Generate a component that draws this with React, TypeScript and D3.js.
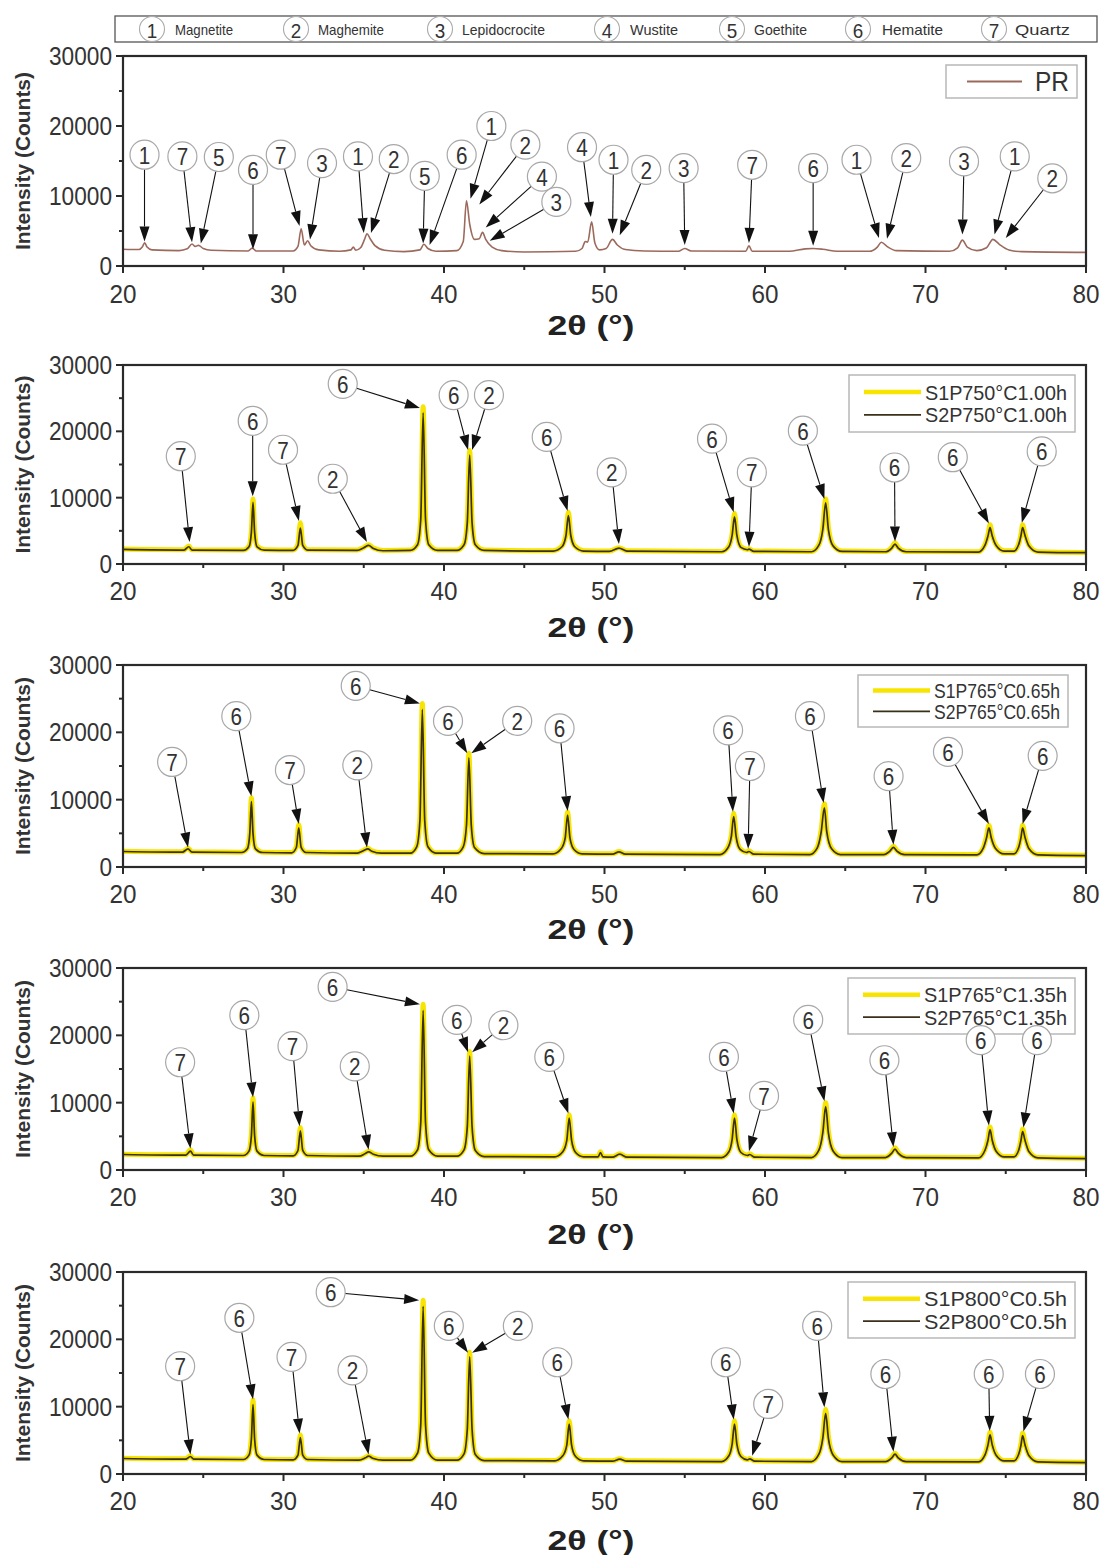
import React from 'react';
import * as d3 from 'd3';

// ---------------- DATA ----------------
const X_TICKS = [20, 30, 40, 50, 60, 70, 80];
const X_MINOR = [25, 35, 45, 55, 65, 75];
const Y_TICKS = [0, 10000, 20000, 30000];
const Y_MINOR = [5000, 15000, 25000];

const PHASE_NUMBERS = ['1', '2', '3', '4', '5', '6', '7'];
const PHASE_NAMES = ['Magnetite', 'Maghemite', 'Lepidocrocite', 'Wustite', 'Goethite', 'Hematite', 'Quartz'];

// [2θ, counts]
const PR: [number, number][] = [
  [20, 2400], [21.0, 2350], [21.2, 2700], [21.35, 3300], [21.5, 2700], [21.8, 2300],
  [23.5, 2200], [24.0, 2450], [24.3, 3150], [24.5, 2800], [24.7, 2950], [25.0, 2500], [25.5, 2250],
  [27.8, 2150], [28.05, 2550], [28.3, 2150],
  [30.6, 2150], [30.9, 2800], [31.1, 5300], [31.3, 3000], [31.5, 3600], [31.7, 2900], [32.2, 2300],
  [33.5, 2100], [34.2, 2300], [34.35, 2700], [34.5, 2250], [34.8, 2600], [35.05, 3800], [35.2, 4600], [35.4, 3900], [35.7, 2900], [36.3, 2250],
  [37.5, 2050], [38.5, 2300], [38.75, 3100], [39.0, 2500], [39.5, 2100],
  [40.8, 2200], [41.2, 3500], [41.4, 9300], [41.6, 6000], [41.9, 3800], [42.2, 3900], [42.4, 4800], [42.6, 3800], [43.0, 2700], [43.6, 2200], [45, 2000],
  [48.2, 2100], [48.6, 2500], [48.8, 3500], [48.95, 3400], [49.2, 6300], [49.4, 3300], [49.7, 2300], [50.1, 2500], [50.5, 3800], [50.8, 3000], [51.3, 2350], [52.5, 2150],
  [54.6, 2100], [55.0, 2500], [55.4, 2150],
  [58.8, 2100], [59.0, 2900], [59.2, 2100],
  [61.5, 2100], [62.5, 2450], [63.0, 2500], [63.6, 2400], [64.5, 2100],
  [66.5, 2100], [67.0, 2700], [67.25, 3400], [67.6, 2800], [68.2, 2200],
  [71.5, 2100], [72.0, 2600], [72.3, 3700], [72.6, 2700], [73.2, 2200], [73.8, 2600], [74.2, 3800], [74.6, 3100], [75.2, 2300], [76, 2050],
  [80, 1950],
];

const S1_750: [number, number][] = [
  [20, 2250], [23.8, 2150], [24.1, 2700], [24.3, 2150],
  [27.5, 2100], [27.85, 2700], [28.0, 5000], [28.1, 9800], [28.2, 5000], [28.35, 2700], [28.8, 2150],
  [30.6, 2100], [30.9, 3000], [31.05, 6200], [31.2, 3000], [31.5, 2150],
  [34.6, 2100], [35.0, 2500], [35.3, 2900], [35.6, 2400], [36.2, 2050],
  [37.9, 2100], [38.35, 3000], [38.55, 7000], [38.7, 23700], [38.85, 7000], [39.05, 3000], [39.6, 2100],
  [40.8, 2100], [41.25, 3000], [41.45, 6500], [41.6, 17100], [41.75, 6500], [41.95, 3000], [42.5, 2100],
  [46.8, 2000], [47.35, 2700], [47.6, 4500], [47.75, 7800], [47.9, 4500], [48.15, 2700], [48.7, 2000],
  [50.3, 1950], [50.9, 2450], [51.4, 2000],
  [57.3, 1900], [57.75, 2700], [57.95, 4500], [58.1, 7600], [58.25, 4500], [58.5, 2600], [58.9, 2200], [59.0, 2300], [59.3, 1950],
  [62.9, 1900], [63.35, 2900], [63.6, 5500], [63.78, 9800], [63.95, 5500], [64.25, 2800], [64.8, 1950],
  [67.5, 1900], [67.9, 2500], [68.1, 3200], [68.3, 2500], [68.8, 1900],
  [73.3, 1850], [73.7, 2900], [73.9, 4500], [74.02, 5900], [74.15, 4500], [74.4, 2900], [74.9, 2000],
  [75.5, 2000], [75.8, 3000], [75.95, 4500], [76.05, 5900], [76.2, 4500], [76.45, 2800], [77.0, 1850],
  [80, 1750],
];
const S2_750: [number, number][] = [
  [20, 2200], [23.8, 2100], [24.1, 2600], [24.3, 2100],
  [27.5, 2050], [27.85, 2600], [28.0, 4800], [28.1, 9300], [28.2, 4800], [28.35, 2600], [28.8, 2100],
  [30.6, 2050], [30.9, 2800], [31.05, 5400], [31.2, 2800], [31.5, 2100],
  [34.6, 2050], [35.0, 2450], [35.3, 2800], [35.6, 2350], [36.2, 2000],
  [37.9, 2050], [38.35, 2900], [38.55, 6700], [38.7, 22800], [38.85, 6700], [39.05, 2900], [39.6, 2050],
  [40.8, 2050], [41.25, 2900], [41.45, 6200], [41.6, 16400], [41.75, 6200], [41.95, 2900], [42.5, 2050],
  [46.8, 1950], [47.35, 2600], [47.6, 4300], [47.75, 7300], [47.9, 4300], [48.15, 2600], [48.7, 1950],
  [50.3, 1900], [50.9, 2400], [51.4, 1950],
  [57.3, 1850], [57.75, 2600], [57.95, 4300], [58.1, 7100], [58.25, 4300], [58.5, 2500], [58.9, 2150], [59.0, 2250], [59.3, 1900],
  [62.9, 1850], [63.35, 2800], [63.6, 5200], [63.78, 9200], [63.95, 5200], [64.25, 2700], [64.8, 1900],
  [67.5, 1850], [67.9, 2400], [68.1, 3000], [68.3, 2400], [68.8, 1850],
  [73.3, 1800], [73.7, 2800], [73.9, 4300], [74.02, 5500], [74.15, 4300], [74.4, 2800], [74.9, 1950],
  [75.5, 1950], [75.8, 2900], [75.95, 4300], [76.05, 5500], [76.2, 4300], [76.45, 2700], [77.0, 1800],
  [80, 1700],
];

const S1_765A: [number, number][] = [
  [20, 2350], [23.7, 2250], [24.05, 2800], [24.3, 2250],
  [27.4, 2200], [27.75, 2800], [27.9, 5200], [28.0, 10300], [28.1, 5200], [28.25, 2800], [28.7, 2200],
  [30.5, 2150], [30.8, 3000], [30.95, 6300], [31.1, 3000], [31.4, 2200],
  [34.6, 2100], [35.0, 2500], [35.25, 2800], [35.5, 2400], [36.1, 2100],
  [37.9, 2100], [38.3, 3100], [38.5, 7200], [38.65, 24300], [38.8, 7200], [39.0, 3100], [39.5, 2100],
  [40.8, 2100], [41.2, 3100], [41.4, 6500], [41.55, 16900], [41.7, 6500], [41.9, 3000], [42.5, 2050],
  [46.8, 2000], [47.3, 2800], [47.55, 4500], [47.7, 8200], [47.85, 4500], [48.1, 2700], [48.6, 2000],
  [50.5, 1950], [50.9, 2300], [51.3, 1950],
  [57.2, 1900], [57.65, 2800], [57.9, 4700], [58.05, 8000], [58.2, 4700], [58.45, 2700], [58.85, 2200], [59.0, 2400], [59.3, 1950],
  [62.8, 1900], [63.25, 2900], [63.5, 5500], [63.7, 9400], [63.85, 5500], [64.15, 2800], [64.7, 1900],
  [67.4, 1900], [67.8, 2500], [68.0, 3100], [68.2, 2500], [68.7, 1900],
  [73.2, 1850], [73.6, 2900], [73.8, 4500], [73.95, 6200], [74.1, 4500], [74.35, 2900], [74.9, 2000],
  [75.5, 2000], [75.8, 3000], [75.95, 4600], [76.05, 6200], [76.2, 4600], [76.45, 2800], [77.0, 1850],
  [80, 1750],
];
const S2_765A: [number, number][] = [
  [20, 2300], [23.7, 2200], [24.05, 2700], [24.3, 2200],
  [27.4, 2150], [27.75, 2700], [27.9, 5000], [28.0, 9700], [28.1, 5000], [28.25, 2700], [28.7, 2150],
  [30.5, 2100], [30.8, 2900], [30.95, 5800], [31.1, 2900], [31.4, 2150],
  [34.6, 2050], [35.0, 2450], [35.25, 2700], [35.5, 2350], [36.1, 2050],
  [37.9, 2050], [38.3, 3000], [38.5, 6900], [38.65, 23400], [38.8, 6900], [39.0, 3000], [39.5, 2050],
  [40.8, 2050], [41.2, 3000], [41.4, 6200], [41.55, 16200], [41.7, 6200], [41.9, 2900], [42.5, 2000],
  [46.8, 1950], [47.3, 2700], [47.55, 4300], [47.7, 7700], [47.85, 4300], [48.1, 2600], [48.6, 1950],
  [50.5, 1900], [50.9, 2250], [51.3, 1900],
  [57.2, 1850], [57.65, 2700], [57.9, 4500], [58.05, 7500], [58.2, 4500], [58.45, 2600], [58.85, 2150], [59.0, 2300], [59.3, 1900],
  [62.8, 1850], [63.25, 2800], [63.5, 5200], [63.7, 8800], [63.85, 5200], [64.15, 2700], [64.7, 1850],
  [67.4, 1850], [67.8, 2400], [68.0, 2900], [68.2, 2400], [68.7, 1850],
  [73.2, 1800], [73.6, 2800], [73.8, 4300], [73.95, 5800], [74.1, 4300], [74.35, 2800], [74.9, 1950],
  [75.5, 1950], [75.8, 2900], [75.95, 4400], [76.05, 5800], [76.2, 4400], [76.45, 2700], [77.0, 1800],
  [80, 1700],
];

const S1_765B: [number, number][] = [
  [20, 2350], [23.9, 2250], [24.2, 3000], [24.4, 2250],
  [27.5, 2200], [27.85, 2900], [28.0, 5400], [28.1, 10700], [28.2, 5400], [28.35, 2900], [28.8, 2200],
  [30.6, 2150], [30.9, 3000], [31.05, 6300], [31.2, 3000], [31.5, 2200],
  [34.7, 2100], [35.1, 2500], [35.3, 2800], [35.6, 2400], [36.2, 2100],
  [37.9, 2100], [38.35, 3100], [38.55, 7300], [38.7, 24600], [38.85, 7300], [39.05, 3100], [39.6, 2100],
  [40.8, 2100], [41.25, 3100], [41.45, 6700], [41.6, 17600], [41.75, 6700], [41.95, 3000], [42.5, 2050],
  [46.9, 2000], [47.4, 2800], [47.65, 4600], [47.8, 8200], [47.95, 4600], [48.2, 2700], [48.7, 2000],
  [49.6, 2000], [49.75, 2700], [49.9, 2000],
  [50.5, 1950], [50.95, 2400], [51.4, 1950],
  [57.3, 1900], [57.75, 2800], [57.95, 4700], [58.1, 8200], [58.25, 4700], [58.5, 2700], [58.9, 2200], [59.05, 2400], [59.35, 1950],
  [62.9, 1900], [63.35, 3000], [63.6, 5800], [63.78, 10000], [63.95, 5800], [64.25, 2900], [64.8, 1900],
  [67.5, 1900], [67.9, 2600], [68.1, 3300], [68.3, 2600], [68.8, 1900],
  [73.3, 1850], [73.7, 3000], [73.9, 4700], [74.02, 6400], [74.15, 4700], [74.4, 2900], [74.9, 2000],
  [75.5, 2000], [75.8, 3000], [75.95, 4600], [76.05, 6100], [76.2, 4600], [76.45, 2800], [77.0, 1850],
  [80, 1750],
];
const S2_765B: [number, number][] = [
  [20, 2300], [23.9, 2200], [24.2, 2800], [24.4, 2200],
  [27.5, 2150], [27.85, 2800], [28.0, 5100], [28.1, 10100], [28.2, 5100], [28.35, 2800], [28.8, 2150],
  [30.6, 2100], [30.9, 2900], [31.05, 5800], [31.2, 2900], [31.5, 2150],
  [34.7, 2050], [35.1, 2450], [35.3, 2700], [35.6, 2350], [36.2, 2050],
  [37.9, 2050], [38.35, 3000], [38.55, 7000], [38.7, 23700], [38.85, 7000], [39.05, 3000], [39.6, 2050],
  [40.8, 2050], [41.25, 3000], [41.45, 6400], [41.6, 16900], [41.75, 6400], [41.95, 2900], [42.5, 2000],
  [46.9, 1950], [47.4, 2700], [47.65, 4400], [47.8, 7700], [47.95, 4400], [48.2, 2600], [48.7, 1950],
  [49.6, 1950], [49.75, 2600], [49.9, 1950],
  [50.5, 1900], [50.95, 2350], [51.4, 1900],
  [57.3, 1850], [57.75, 2700], [57.95, 4500], [58.1, 7700], [58.25, 4500], [58.5, 2600], [58.9, 2150], [59.05, 2300], [59.35, 1900],
  [62.9, 1850], [63.35, 2900], [63.6, 5500], [63.78, 9400], [63.95, 5500], [64.25, 2800], [64.8, 1850],
  [67.5, 1850], [67.9, 2500], [68.1, 3100], [68.3, 2500], [68.8, 1850],
  [73.3, 1800], [73.7, 2900], [73.9, 4500], [74.02, 6000], [74.15, 4500], [74.4, 2800], [74.9, 1950],
  [75.5, 1950], [75.8, 2900], [75.95, 4400], [76.05, 5700], [76.2, 4400], [76.45, 2700], [77.0, 1800],
  [80, 1700],
];

const S1_800: [number, number][] = [
  [20, 2350], [23.9, 2250], [24.2, 2700], [24.4, 2250],
  [27.5, 2200], [27.85, 2900], [28.0, 5500], [28.1, 11000], [28.2, 5500], [28.35, 2900], [28.8, 2200],
  [30.6, 2150], [30.9, 2900], [31.05, 5800], [31.2, 2900], [31.5, 2200],
  [34.7, 2100], [35.1, 2450], [35.3, 2700], [35.6, 2350], [36.2, 2100],
  [37.9, 2100], [38.35, 3200], [38.55, 7600], [38.7, 25800], [38.85, 7600], [39.05, 3200], [39.6, 2100],
  [40.8, 2100], [41.25, 3100], [41.45, 6900], [41.6, 18100], [41.75, 6900], [41.95, 3000], [42.5, 2050],
  [46.9, 2000], [47.4, 2800], [47.65, 4500], [47.8, 7900], [47.95, 4500], [48.2, 2700], [48.7, 2000],
  [50.5, 1950], [50.95, 2250], [51.4, 1950],
  [57.3, 1900], [57.75, 2800], [57.95, 4600], [58.1, 7900], [58.25, 4600], [58.5, 2700], [58.9, 2150], [59.05, 2300], [59.35, 1950],
  [62.9, 1900], [63.35, 3000], [63.6, 5600], [63.78, 9600], [63.95, 5600], [64.25, 2900], [64.8, 1900],
  [67.5, 1900], [67.9, 2500], [68.1, 3100], [68.3, 2500], [68.8, 1900],
  [73.3, 1850], [73.7, 2900], [73.9, 4600], [74.02, 6200], [74.15, 4600], [74.4, 2900], [74.9, 2000],
  [75.5, 2000], [75.8, 3000], [75.95, 4500], [76.05, 6100], [76.2, 4500], [76.45, 2800], [77.0, 1850],
  [80, 1750],
];
const S2_800: [number, number][] = [
  [20, 2300], [23.9, 2200], [24.2, 2600], [24.4, 2200],
  [27.5, 2150], [27.85, 2800], [28.0, 5200], [28.1, 10300], [28.2, 5200], [28.35, 2800], [28.8, 2150],
  [30.6, 2100], [30.9, 2800], [31.05, 5400], [31.2, 2800], [31.5, 2150],
  [34.7, 2050], [35.1, 2400], [35.3, 2650], [35.6, 2300], [36.2, 2050],
  [37.9, 2050], [38.35, 3100], [38.55, 7300], [38.7, 24900], [38.85, 7300], [39.05, 3100], [39.6, 2050],
  [40.8, 2050], [41.25, 3000], [41.45, 6600], [41.6, 17400], [41.75, 6600], [41.95, 2900], [42.5, 2000],
  [46.9, 1950], [47.4, 2700], [47.65, 4300], [47.8, 7400], [47.95, 4300], [48.2, 2600], [48.7, 1950],
  [50.5, 1900], [50.95, 2200], [51.4, 1900],
  [57.3, 1850], [57.75, 2700], [57.95, 4400], [58.1, 7400], [58.25, 4400], [58.5, 2600], [58.9, 2100], [59.05, 2250], [59.35, 1900],
  [62.9, 1850], [63.35, 2900], [63.6, 5300], [63.78, 9000], [63.95, 5300], [64.25, 2800], [64.8, 1850],
  [67.5, 1850], [67.9, 2400], [68.1, 2950], [68.3, 2400], [68.8, 1850],
  [73.3, 1800], [73.7, 2800], [73.9, 4400], [74.02, 5800], [74.15, 4400], [74.4, 2800], [74.9, 1950],
  [75.5, 1950], [75.8, 2900], [75.95, 4300], [76.05, 5700], [76.2, 4300], [76.45, 2700], [77.0, 1800],
  [80, 1700],
];

// annotations: [label, circle 2θ, circle counts, tip 2θ, tip counts]
type Ann = [string, number, number, number, number];
const ANN_PR: Ann[] = [
  ['1', 21.34, 15900, 21.34, 3500], ['7', 23.7, 15660, 24.3, 3400], ['5', 25.97, 15570, 24.85, 3200],
  ['6', 28.1, 13740, 28.1, 2400], ['7', 29.83, 15900, 31.0, 5700], ['3', 32.4, 14700, 31.65, 3800],
  ['1', 34.64, 15660, 35.0, 4700], ['2', 36.87, 15280, 35.45, 4700], ['5', 38.8, 12870, 38.7, 3200],
  ['6', 41.1, 15900, 39.1, 3000], ['1', 42.95, 20000, 41.65, 9600], ['2', 45.07, 17350, 42.2, 8800],
  ['4', 46.1, 12770, 42.6, 5500], ['3', 47.0, 9160, 42.85, 3600], ['4', 48.6, 16970, 49.15, 7000],
  ['1', 50.56, 15180, 50.5, 4600], ['2', 52.6, 13740, 50.95, 4400], ['3', 54.93, 13980, 55.0, 3000],
  ['7', 59.2, 14460, 59.0, 3300], ['6', 63.0, 13980, 63.0, 2900], ['1', 65.7, 15180, 67.1, 4000],
  ['2', 68.8, 15420, 67.6, 3900], ['3', 72.4, 14940, 72.3, 4500], ['1', 75.56, 15660, 74.3, 4500],
  ['2', 77.9, 12530, 75.0, 4000],
];
const ANN_750: Ann[] = [
  ['7', 23.6, 16250, 24.15, 3300], ['6', 28.08, 21580, 28.08, 10200], ['7', 29.97, 17220, 30.96, 6500],
  ['2', 33.07, 12850, 35.2, 3300], ['6', 33.69, 27160, 38.5, 23500], ['6', 40.6, 25460, 41.5, 17200],
  ['2', 42.8, 25460, 41.75, 17200], ['6', 46.4, 19160, 47.7, 8000], ['2', 50.45, 13820, 50.9, 3000],
  ['6', 56.7, 18900, 58.05, 7800], ['7', 59.18, 13820, 59.0, 2600], ['6', 62.36, 20100, 63.7, 9800],
  ['6', 68.07, 14550, 68.1, 3400], ['6', 71.7, 16100, 73.95, 6100], ['6', 77.24, 16970, 76.0, 6200],
];
const ANN_765A: Ann[] = [
  ['7', 23.06, 15600, 24.05, 2900], ['6', 27.06, 22400, 28.0, 10500], ['7', 30.4, 14400, 30.95, 6400],
  ['2', 34.6, 15100, 35.2, 2900], ['6', 34.5, 26900, 38.5, 24300], ['6', 40.25, 21700, 41.45, 16900],
  ['2', 44.56, 21700, 41.7, 16900], ['6', 47.2, 20600, 47.7, 8300], ['6', 57.7, 20300, 58.0, 8200],
  ['7', 59.06, 15000, 58.95, 2700], ['6', 62.8, 22400, 63.65, 9500], ['6', 67.7, 13500, 68.0, 3300],
  ['6', 71.4, 17100, 73.95, 6400], ['6', 77.3, 16500, 76.05, 6400],
];
const ANN_765B: Ann[] = [
  ['7', 23.56, 16000, 24.2, 3200], ['6', 27.56, 23000, 28.1, 10800], ['7', 30.56, 18400, 31.0, 6500],
  ['2', 34.44, 15400, 35.3, 3000], ['6', 33.06, 27200, 38.5, 24600], ['6', 40.8, 22300, 41.5, 17500],
  ['2', 43.7, 21500, 41.75, 17500], ['6', 46.56, 16800, 47.75, 8400], ['6', 57.44, 16800, 58.05, 8400],
  ['7', 59.94, 11000, 59.0, 2800], ['6', 62.69, 22300, 63.7, 10200], ['6', 67.44, 16300, 68.0, 3400],
  ['6', 73.44, 19300, 73.95, 6600], ['6', 76.94, 19300, 76.1, 6300],
];
const ANN_800: Ann[] = [
  ['7', 23.56, 16000, 24.2, 2900], ['6', 27.25, 23200, 28.1, 11100], ['7', 30.5, 17400, 31.0, 6000],
  ['2', 34.3, 15400, 35.3, 2900], ['6', 32.94, 27000, 38.45, 25800], ['6', 40.3, 22000, 41.5, 18000],
  ['2', 44.6, 22000, 41.75, 18000], ['6', 47.06, 16600, 47.75, 8100], ['6', 57.56, 16600, 58.05, 8100],
  ['7', 60.2, 10400, 59.2, 2700], ['6', 63.25, 22000, 63.7, 9900], ['6', 67.5, 14850, 68.0, 3300],
  ['6', 73.94, 14850, 74.0, 6400], ['6', 77.13, 14850, 76.1, 6300],
];

const LEGEND_PR = ['PR'];
const LEGEND_750 = ['S1P750°C1.00h', 'S2P750°C1.00h'];
const LEGEND_765A = ['S1P765°C0.65h', 'S2P765°C0.65h'];
const LEGEND_765B = ['S1P765°C1.35h', 'S2P765°C1.35h'];
const LEGEND_800 = ['S1P800°C0.5h', 'S2P800°C0.5h'];

// ---------------- LAYOUT / STYLE ----------------
const LEFT = 123;
const RIGHT = 1086;
const SANS = "'Liberation Sans',Arial,sans-serif";
const YELLOW = '#f7e400';
const DARK = '#3a3018';
const PR_COLOR = '#9c6a5c';
const DIGIT_W = 12.6; // narrow-font digit advance used to condense tick labels

const PANELS = [
  { top: 56, bottom: 266, tickY: 294, titleY: 325, series: [PR], legend: LEGEND_PR, ann: ANN_PR,
    legendBox: { x: 946, y: 65, w: 131, h: 33 } },
  { top: 365, bottom: 564, tickY: 591, titleY: 627, series: [S1_750, S2_750], legend: LEGEND_750, ann: ANN_750,
    legendBox: { x: 849, y: 375, w: 226, h: 57 } },
  { top: 665, bottom: 867, tickY: 894, titleY: 929, series: [S1_765A, S2_765A], legend: LEGEND_765A, ann: ANN_765A,
    legendBox: { x: 858, y: 675, w: 210, h: 52 } },
  { top: 968, bottom: 1170, tickY: 1197, titleY: 1234, series: [S1_765B, S2_765B], legend: LEGEND_765B, ann: ANN_765B,
    legendBox: { x: 848, y: 978, w: 227, h: 56 } },
  { top: 1272, bottom: 1474, tickY: 1501, titleY: 1540, series: [S1_800, S2_800], legend: LEGEND_800, ann: ANN_800,
    legendBox: { x: 848, y: 1282, w: 227, h: 56 } },
];

const TOP_LEGEND_CIRCLE_X = [152, 296, 440, 607, 732, 858, 994];
const TOP_LEGEND_TEXT_X = [175, 318, 462, 630, 754, 882, 1015];
const TOP_LEGEND_TEXT_W = [58, 66, 83, 48, 53, 61, 55];

function Panel({ p }: { p: typeof PANELS[number] }) {
  const x = d3.scaleLinear().domain([20, 80]).range([LEFT, RIGHT]);
  const y = d3.scaleLinear().domain([0, 30000]).range([p.bottom, p.top]);
  const line = d3.line<[number, number]>().x(d => x(d[0])).y(d => y(d[1])).curve(d3.curveMonotoneX);
  const isPR = p.series.length === 1;
  const midY = (p.top + p.bottom) / 2;
  const clipId = `clip-${p.top}`;
  const r = 14.5;
  return (
    <g>
      <defs>
        <clipPath id={clipId}>
          <rect x={LEFT} y={p.top} width={RIGHT - LEFT} height={p.bottom - p.top} />
        </clipPath>
      </defs>
      <g clipPath={`url(#${clipId})`}>
        {isPR ? (
          <path d={line(p.series[0]) || ''} fill="none" stroke={PR_COLOR} strokeWidth={1.6} strokeLinejoin="round" />
        ) : (
          <>
            <path d={line(p.series[0]) || ''} fill="none" stroke={YELLOW} strokeWidth={5} strokeLinejoin="round" />
            <path d={line(p.series[1]) || ''} fill="none" stroke={DARK} strokeWidth={1.7} strokeLinejoin="round" />
          </>
        )}
      </g>
      <rect x={LEFT} y={p.top} width={RIGHT - LEFT} height={p.bottom - p.top} fill="none" stroke="#2a2a2a" strokeWidth={2.2} />
      {X_TICKS.map(t => (
        <g key={'xt' + t}>
          <line x1={x(t)} x2={x(t)} y1={p.bottom} y2={p.bottom + 7} stroke="#2a2a2a" strokeWidth={2} />
          <text x={x(t)} y={p.tickY} textAnchor="middle" dominantBaseline="central" fontFamily={SANS} fontSize={26}
            fill="#333" textLength={String(t).length * 13.5} lengthAdjust="spacingAndGlyphs">{t}</text>
        </g>
      ))}
      {X_MINOR.map(t => (
        <line key={'xm' + t} x1={x(t)} x2={x(t)} y1={p.bottom} y2={p.bottom + 4} stroke="#2a2a2a" strokeWidth={2} />
      ))}
      {Y_TICKS.map(t => (
        <g key={'yt' + t}>
          <line x1={LEFT - 7} x2={LEFT} y1={y(t)} y2={y(t)} stroke="#2a2a2a" strokeWidth={2} />
          <text x={LEFT - 11} y={y(t)} textAnchor="end" dominantBaseline="central" fontFamily={SANS} fontSize={26}
            fill="#333" textLength={String(t).length * DIGIT_W} lengthAdjust="spacingAndGlyphs">{t}</text>
        </g>
      ))}
      {Y_MINOR.map(t => (
        <line key={'ym' + t} x1={LEFT - 4} x2={LEFT} y1={y(t)} y2={y(t)} stroke="#2a2a2a" strokeWidth={2} />
      ))}
      <text transform={`translate(23,${midY}) rotate(-90)`} textAnchor="middle" dominantBaseline="central"
        fontFamily={SANS} fontWeight="bold" fontSize={20} fill="#333" textLength={178} lengthAdjust="spacingAndGlyphs">Intensity (Counts)</text>
      <text x={591} y={p.titleY} textAnchor="middle" dominantBaseline="central" fontFamily={SANS} fontWeight="bold"
        fontSize={28} fill="#222" textLength={87} lengthAdjust="spacingAndGlyphs">2θ (°)</text>
      <rect x={p.legendBox.x} y={p.legendBox.y} width={p.legendBox.w} height={p.legendBox.h} fill="#fff" stroke="#b8b8b8" strokeWidth={1.5} />
      {isPR ? (
        <g>
          <line x1={p.legendBox.x + 21} x2={p.legendBox.x + 76} y1={p.legendBox.y + p.legendBox.h / 2} y2={p.legendBox.y + p.legendBox.h / 2} stroke={PR_COLOR} strokeWidth={1.8} />
          <text x={p.legendBox.x + 89} y={p.legendBox.y + p.legendBox.h / 2} dominantBaseline="central" fontFamily={SANS} fontSize={27}
            fill="#333" textLength={34} lengthAdjust="spacingAndGlyphs">{p.legend[0]}</text>
        </g>
      ) : (
        p.legend.map((lab, i) => {
          const rowY = p.legendBox.y + p.legendBox.h * (i === 0 ? 0.3 : 0.7);
          const lx = p.legendBox.x + 15;
          return (
            <g key={lab}>
              <line x1={lx} x2={lx + 57} y1={rowY} y2={rowY} stroke={i === 0 ? YELLOW : DARK} strokeWidth={i === 0 ? 4.5 : 1.7} />
              <text x={lx + 61} y={rowY} dominantBaseline="central" fontFamily={SANS} fontSize={21} fill="#333"
                textLength={p.legendBox.w - 84} lengthAdjust="spacingAndGlyphs">{lab}</text>
            </g>
          );
        })
      )}
      {p.ann.map((a, i) => {
        const cx = x(a[1]), cy = y(a[2]);
        const tx = x(a[3]), ty = y(a[4]);
        const dx = tx - cx, dy = ty - cy;
        const len = Math.hypot(dx, dy) || 1;
        const ux = dx / len, uy = dy / len;
        const sx = cx + ux * r, sy = cy + uy * r;
        const hl = 15, hw = 5;
        const bx = tx - ux * hl, by = ty - uy * hl;
        const pts = `${tx},${ty} ${bx - uy * hw},${by + ux * hw} ${bx + uy * hw},${by - ux * hw}`;
        return (
          <g key={'a' + i}>
            <line x1={sx} y1={sy} x2={bx} y2={by} stroke="#111" strokeWidth={1.1} />
            <polygon points={pts} fill="#111" />
            <circle cx={cx} cy={cy} r={r} fill="#fff" stroke="#a8a8a8" strokeWidth={1.2} />
            <text x={cx} y={cy + 1} textAnchor="middle" dominantBaseline="central" fontFamily={SANS} fontSize={23}
              fill="#333" textLength={11.5} lengthAdjust="spacingAndGlyphs">{a[0]}</text>
          </g>
        );
      })}
    </g>
  );
}

export default function App() {
  return (
    <svg width={1104} height={1555} style={{ position: 'absolute', left: 0, top: 0, background: '#fff' }}>
      <rect x={0} y={0} width={1104} height={1555} fill="#fff" />
      <rect x={115} y={16} width={982} height={26} fill="#fff" stroke="#555" strokeWidth={1.3} />
      {PHASE_NAMES.map((name, i) => (
        <g key={name}>
          <circle cx={TOP_LEGEND_CIRCLE_X[i]} cy={29} r={12.5} fill="#fff" stroke="#aaa" strokeWidth={1.1} />
          <text x={TOP_LEGEND_CIRCLE_X[i]} y={30} textAnchor="middle" dominantBaseline="central" fontFamily={SANS} fontSize={21}
            fill="#333" textLength={10.5} lengthAdjust="spacingAndGlyphs">{PHASE_NUMBERS[i]}</text>
          <text x={TOP_LEGEND_TEXT_X[i]} y={29} dominantBaseline="central" fontFamily={SANS} fontSize={15}
            fill="#333" textLength={TOP_LEGEND_TEXT_W[i]} lengthAdjust="spacingAndGlyphs">{name}</text>
        </g>
      ))}
      {PANELS.map(p => <Panel key={p.top} p={p} />)}
    </svg>
  );
}
